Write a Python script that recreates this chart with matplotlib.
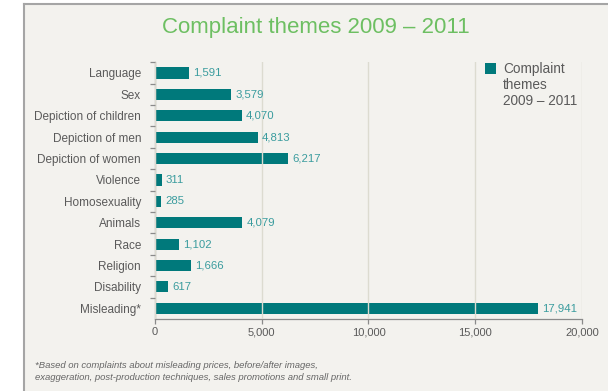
import matplotlib
matplotlib.use("Agg")
import matplotlib.pyplot as plt
from matplotlib.patches import Rectangle
from matplotlib.lines import Line2D
from matplotlib.ticker import FixedLocator, FuncFormatter

categories = ["Language", "Sex", "Depiction of children", "Depiction of men",
              "Depiction of women", "Violence", "Homosexuality", "Animals",
              "Race", "Religion", "Disability", "Misleading*"]
values = [1591, 3579, 4070, 4813, 6217, 311, 285, 4079, 1102, 1666, 617, 17941]
x_ticks = [0, 5000, 10000, 15000, 20000]
title = "Complaint themes 2009 \u2013 2011"
legend_label = "Complaint\nthemes\n2009 \u2013 2011"
footnote = ("*Based on complaints about misleading prices, before/after images,\n"
            "exaggeration, post-production techniques, sales promotions and small print.")

BG = "#f3f2ee"
BAR = "#00797b"
VAL = "#3a9c9e"
GRID = "#dcdbd0"
SPINE = "#8a8a8a"
TXT = "#5a5a5a"
GREEN = "#6dbf62"

plt.rcParams["font.family"] = ["Liberation Sans", "DejaVu Sans"]

W, H = 608, 391
fig = plt.figure(figsize=(W / 100, H / 100), dpi=100)
fig.patch.set_facecolor("white")

# panel background and border
x0 = 24 / W
ytop = 1 - 4 / H
fig.patches.append(Rectangle((x0, 0), 1 - x0, ytop, transform=fig.transFigure,
                             facecolor=BG, edgecolor="none", zorder=-10))
fig.lines.append(Line2D([x0, 1], [ytop, ytop], transform=fig.transFigure,
                        color="#a5a5a5", lw=1.5, zorder=-9))
fig.lines.append(Line2D([x0, x0], [0, ytop], transform=fig.transFigure,
                        color="#a5a5a5", lw=1.5, zorder=-9))

left, right = 155 / W, 582 / W
top, bottom = 1 - 62.3 / H, 1 - 319 / H
ax = fig.add_axes([left, bottom, right - left, top - bottom])
ax.set_facecolor("none")

ypos = list(range(len(categories)))
bars = ax.barh(ypos, values, height=0.52, color=BAR, zorder=1)
ax.set_ylim(len(categories) - 0.5, -0.5)
ax.set_xlim(0, 20000)

for y, v in zip(ypos, values):
    ax.text(v + 200, y, f"{v:,}", va="center", ha="left", fontsize=8.2,
            color=VAL, zorder=3)

ax.set_axisbelow(False)
ax.xaxis.grid(True, color=GRID, lw=1, zorder=2)
ax.yaxis.grid(False)

ax.set_xticks(x_ticks)
ax.xaxis.set_major_formatter(FuncFormatter(lambda v, p: f"{int(v):,}"))
ax.tick_params(axis="x", direction="out", length=3.5, width=0.9, color=SPINE,
               labelsize=8, labelcolor=TXT, pad=2.5)

ax.set_yticks(ypos)
ax.set_yticklabels(categories)
ax.yaxis.set_minor_locator(FixedLocator([i + 0.5 for i in range(-1, len(categories) - 1)]))
ax.tick_params(axis="y", which="major", length=0, labelsize=8.5, labelcolor=TXT, pad=10)
ax.tick_params(axis="y", which="minor", direction="out", length=3.5, width=0.9, color=SPINE)

for s in ["top", "right"]:
    ax.spines[s].set_visible(False)
for s in ["left", "bottom"]:
    ax.spines[s].set_color(SPINE)
    ax.spines[s].set_linewidth(0.9)

# title
fig.text((24 + W) / 2 / W, 1 - 27.5 / H, title, ha="center", va="center",
         fontsize=16, color=GREEN)

# legend (square + multi-line label)
fig.patches.append(Rectangle((485 / W, 1 - 74 / H), 11 / W, 11 / H,
                             transform=fig.transFigure, facecolor=BAR,
                             edgecolor="none", zorder=3))
fig.text(503 / W, 1 - 61.5 / H, legend_label, ha="left", va="top", fontsize=9.8,
         color=TXT, linespacing=1.2)

# footnote
fig.text(35 / W, 1 - 361 / H, footnote, ha="left", va="top", fontsize=6.8,
         style="italic", color="#666666", linespacing=1.5)

fig.savefig("out.png", dpi=100, facecolor=fig.get_facecolor())
